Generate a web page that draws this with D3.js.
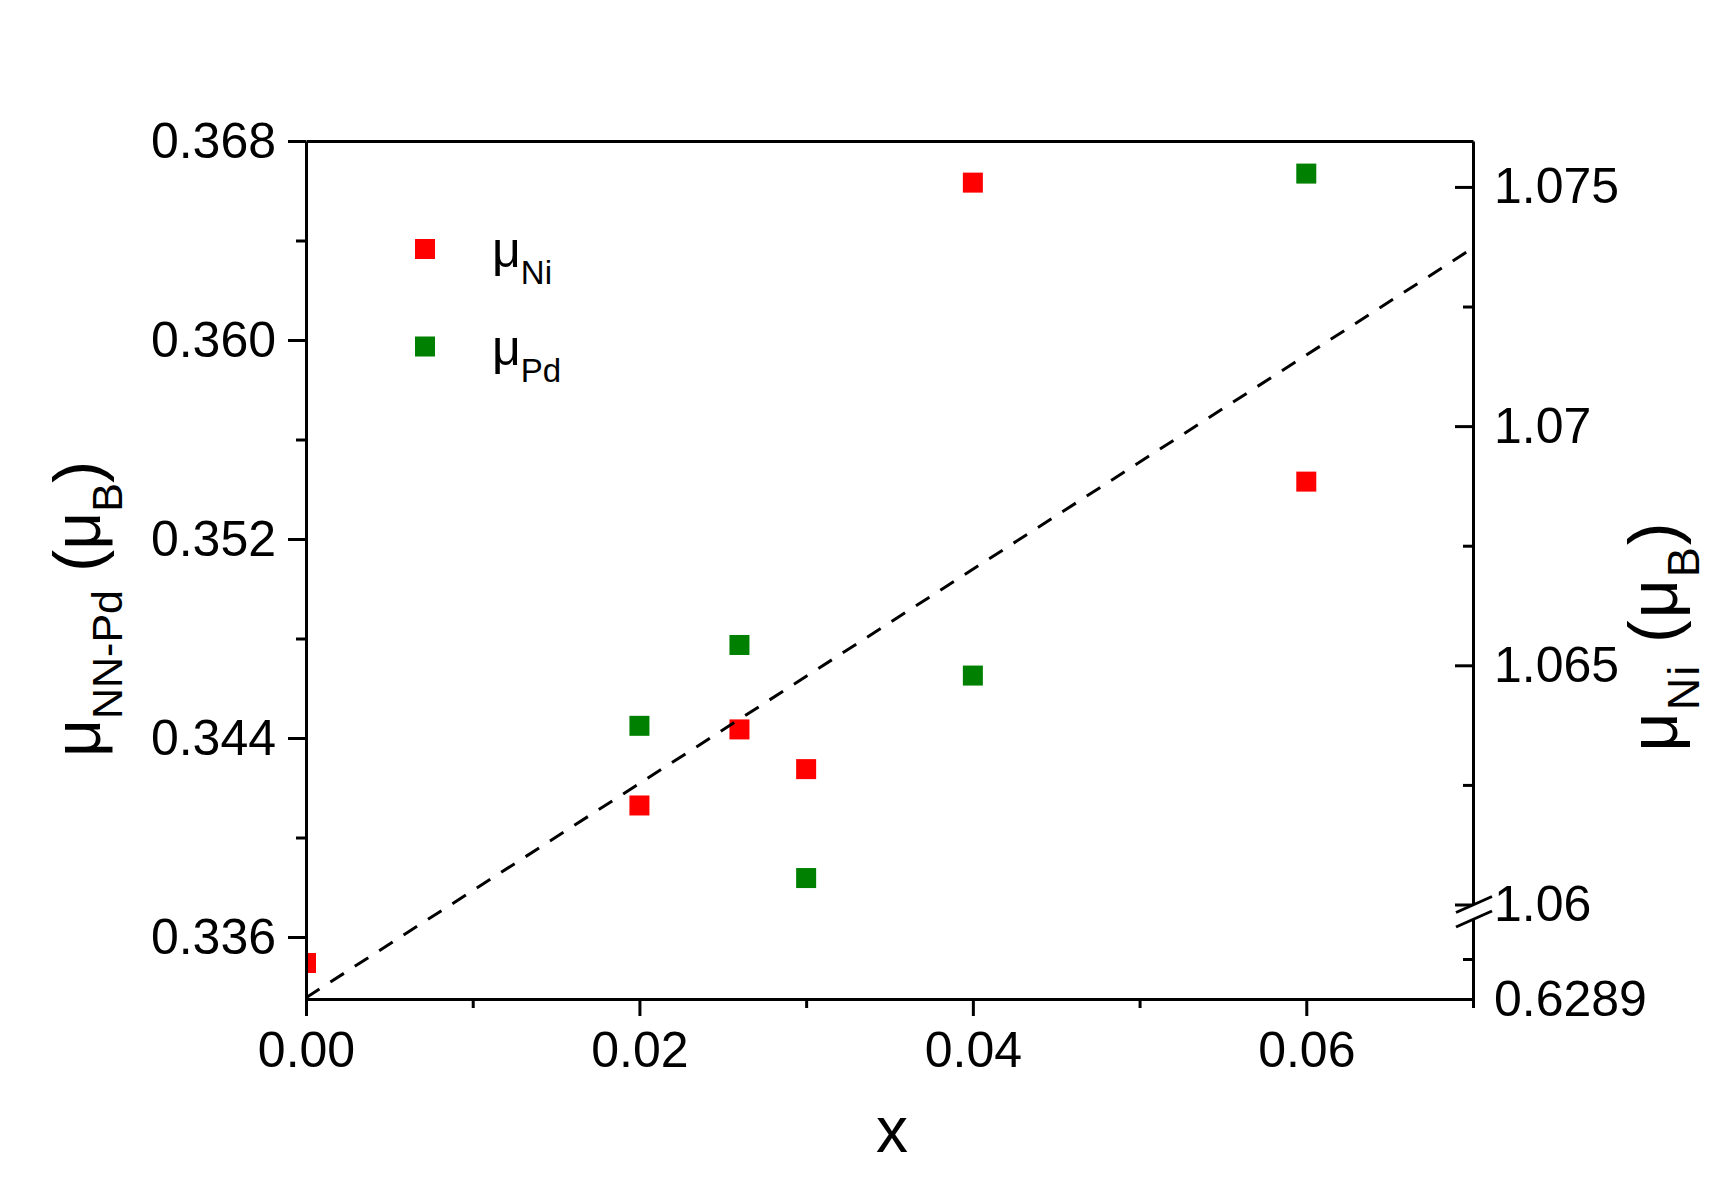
<!DOCTYPE html>
<html>
<head>
<meta charset="utf-8">
<script src="https://cdn.jsdelivr.net/npm/d3@7"></script>
<style>
  html, body { margin: 0; padding: 0; background: #fff; }
  svg { display: block; font-family: "Liberation Sans", Arial, sans-serif; }
  .axis path, .axis line { stroke: #000; stroke-width: 3; }
  .axis text { font-size: 50px; fill: #000; font-family: "Liberation Sans", Arial, sans-serif; }
</style>
</head>
<body>
<div id="chart"></div>
<script>
// ---- data ----
const niX = [0, 0.02, 0.026, 0.03, 0.04, 0.06];
const niY = [0.62899, 1.06207, 1.06366, 1.06283, 1.07509, 1.06884]; // right axis (first one sits below the break)
const pdX = [0.02, 0.026, 0.03, 0.04, 0.06];
const pdY = [0.34449, 0.34774, 0.33837, 0.34651, 0.36669];        // left axis

const fitX = [0, 0.07];
const fitY = [0.33356, 0.3637];

const xMajor = [0, 0.02, 0.04, 0.06];
const xMinor = [0.01, 0.03, 0.05, 0.07];
const yLMajor = [0.336, 0.344, 0.352, 0.360, 0.368];
const yLMinor = [0.340, 0.348, 0.356, 0.364];
const yRMajor = [1.06, 1.065, 1.07, 1.075];
const yRMinor = [1.0625, 1.0675, 1.0725];
const yRLowMinor = [0.629];
const yRLowLabel = [0.6289];

// ---- layout ----
const W = 1713, H = 1198;
const m = { left: 306, top: 141 };
const pw = 1167, ph = 858;
const breakTop = 763.5, breakBot = 778;

const svg = d3.select('#chart').append('svg').attr('width', W).attr('height', H);
const g = svg.append('g').attr('transform', `translate(${m.left},${m.top})`);

const x = d3.scaleLinear().domain([0, 0.07]).range([0, pw]);
const yL = d3.scaleLinear().domain([0.333508, 0.368]).range([ph, 0]);
const yRUp = d3.scaleLinear().domain([1.06, 1.07596]).range([breakTop, 0]);
const yRLow = d3.scaleLinear().domain([0.6289, 0.6291]).range([ph, breakBot]);
const yR = v => v < 1 ? yRLow(v) : yRUp(v);

svg.append('defs').append('clipPath').attr('id', 'plot-clip')
  .append('rect').attr('x', 0).attr('y', 0).attr('width', pw).attr('height', ph);

const marks = g.append('g').attr('clip-path', 'url(#plot-clip)');
const sq = 20;

marks.selectAll('.ni').data(niX).join('rect')
  .attr('class', 'ni')
  .attr('x', (d, i) => x(d) - sq / 2)
  .attr('y', (d, i) => yR(niY[i]) - sq / 2)
  .attr('width', sq).attr('height', sq)
  .attr('fill', '#ff0000');

marks.selectAll('.pd').data(pdX).join('rect')
  .attr('class', 'pd')
  .attr('x', (d, i) => x(d) - sq / 2)
  .attr('y', (d, i) => yL(pdY[i]) - sq / 2)
  .attr('width', sq).attr('height', sq)
  .attr('fill', '#008000');

marks.append('path')
  .datum(d3.zip(fitX, fitY))
  .attr('d', d3.line().x(d => x(d[0])).y(d => yL(d[1])))
  .attr('fill', 'none')
  .attr('stroke', '#000')
  .attr('stroke-width', 3)
  .attr('stroke-dasharray', '16,13');

// ---- axes ----
const fmt3 = d3.format('.3f');
const fmt2 = d3.format('.2f');

// bottom
g.append('g').attr('class', 'axis').attr('transform', `translate(0,${ph})`)
  .call(d3.axisBottom(x).tickValues(xMajor).tickSize(17).tickSizeOuter(0).tickPadding(15).tickFormat(fmt2));
g.append('g').attr('class', 'axis').attr('transform', `translate(0,${ph})`)
  .call(d3.axisBottom(x).tickValues(xMinor).tickSize(9).tickSizeOuter(0).tickFormat(''))
  .call(a => a.select('.domain').remove());

// top (plain line)
g.append('g').attr('class', 'axis')
  .call(d3.axisTop(x).tickValues([]).tickSizeOuter(0));

// left
g.append('g').attr('class', 'axis')
  .call(d3.axisLeft(yL).tickValues(yLMajor).tickSize(18).tickSizeOuter(0).tickPadding(12).tickFormat(fmt3));
g.append('g').attr('class', 'axis')
  .call(d3.axisLeft(yL).tickValues(yLMinor).tickSize(10).tickSizeOuter(0).tickFormat(''))
  .call(a => a.select('.domain').remove());

// right, upper segment (ticks pointing inward)
const rightG = g.append('g').attr('transform', `translate(${pw},0)`);
rightG.append('g').attr('class', 'axis')
  .call(d3.axisRight(yRUp).tickValues(yRMajor).tickSize(-18).tickSizeOuter(0).tickPadding(21)
    .tickFormat(d => d === 1.065 || d === 1.075 ? d3.format('.3f')(d) : d3.format('.2f')(d)));
rightG.append('g').attr('class', 'axis')
  .call(d3.axisRight(yRUp).tickValues(yRMinor).tickSize(-10).tickSizeOuter(0).tickFormat(''))
  .call(a => a.select('.domain').remove());

// right, lower segment
rightG.append('g').attr('class', 'axis')
  .call(d3.axisRight(yRLow).tickValues(yRLowMinor).tickSize(-10).tickSizeOuter(0).tickFormat(''));
rightG.append('g').attr('class', 'axis')
  .call(d3.axisRight(yRLow).tickValues(yRLowLabel).tickSize(0).tickSizeOuter(0).tickPadding(21).tickFormat(d3.format('.4f')))
  .call(a => a.select('.domain').remove());

// break marks on the right axis
const brk = rightG.append('g');
brk.append('path')
  .attr('d', `M-17,${breakTop + 8} L19,${breakTop - 8} L19,${breakBot - 8} L-17,${breakBot + 8} Z`)
  .attr('fill', '#fff');
[breakTop, breakBot].forEach(yy => {
  brk.append('line')
    .attr('x1', -17).attr('y1', yy + 8).attr('x2', 19).attr('y2', yy - 8)
    .attr('stroke', '#000').attr('stroke-width', 3);
});

// ---- titles ----
svg.append('text')
  .attr('x', 892).attr('y', 1152)
  .attr('text-anchor', 'middle')
  .attr('font-size', 64)
  .text('x');

function muLabel(sel, sub, big, small, shift) {
  sel.append('tspan').attr('font-size', big).text('μ');
  sel.append('tspan').attr('font-size', small).attr('dy', shift).text(sub);
  sel.append('tspan').attr('font-size', big).attr('dy', -shift).text(' (μ');
  sel.append('tspan').attr('font-size', small).attr('dy', shift).text('B');
  sel.append('tspan').attr('font-size', big).attr('dy', -shift).text(')');
}

const leftTitle = svg.append('text')
  .attr('transform', 'translate(100,609) rotate(-90)')
  .attr('text-anchor', 'middle');
muLabel(leftTitle, 'NN-Pd', 66, 43, 22);

const rightTitle = svg.append('text')
  .attr('transform', 'translate(1677,636) rotate(-90)')
  .attr('text-anchor', 'middle')
  .attr('letter-spacing', 2);
muLabel(rightTitle, 'Ni', 68, 45, 22);

// ---- legend ----
const legendItems = ['Ni', 'Pd'];
const legendColors = ['#ff0000', '#008000'];
const legend = svg.append('g').attr('transform', 'translate(425,249)');
const li = legend.selectAll('g').data(legendItems).join('g')
  .attr('transform', (d, i) => `translate(0,${i * 97.5})`);
li.append('rect')
  .attr('x', -10).attr('y', -10).attr('width', sq).attr('height', sq)
  .attr('fill', (d, i) => legendColors[i]);
const lt = li.append('text').attr('x', 67).attr('y', 18);
lt.append('tspan').attr('font-size', 50).text('μ');
lt.append('tspan').attr('font-size', 33).attr('dy', 17).text(d => d);
</script>
</body>
</html>
